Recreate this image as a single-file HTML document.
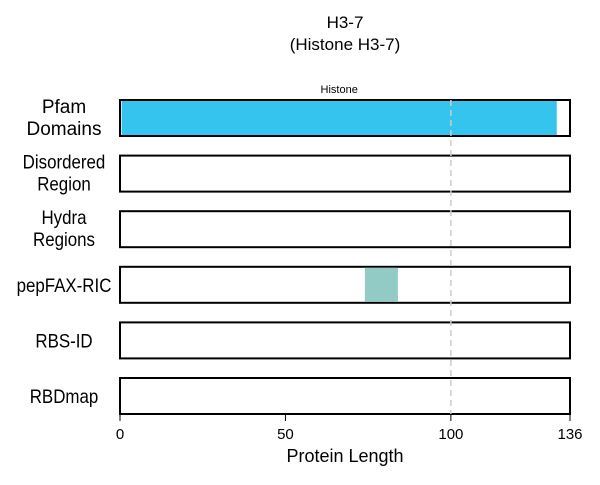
<!DOCTYPE html>
<html><head><meta charset="utf-8"><style>
body{margin:0;background:#fff;}
svg text{font-family:"Liberation Sans",sans-serif;}
</style></head><body>
<svg id="chart" width="600" height="480" xmlns="http://www.w3.org/2000/svg">
<text x="345" y="28" font-size="17" text-anchor="middle">H3-7</text>
<text x="345" y="50" font-size="17" text-anchor="middle">(Histone H3-7)</text>
<g id="rows"></g>
<g id="axis"></g>
<text x="345" y="462" font-size="18" text-anchor="middle">Protein Length</text>
</svg>
<script>
const tracks=["Pfam Domains","Disordered Region","Hydra Regions","pepFAX-RIC","RBS-ID","RBDmap"];
const featTrack=[0,3];
const featStart=[0.5,74];
const featEnd=[132,84];
const featLabel=["Histone",""];
const featColor=["#35c4ee","#92cbc5"];
const ticks=[0,50,100,136];
const maxLen=136;
const dashAt=100;
const ns="http://www.w3.org/2000/svg";
const x0=120,x1=570;
const xs=v=>x0+(v/maxLen)*(x1-x0);
const rowY=i=>100+i*55.6, rowH=36;
function mk(t,a,p){const e=document.createElementNS(ns,t);for(const k in a)e.setAttribute(k,a[k]);p.appendChild(e);return e;}
const rows=document.getElementById('rows');
tracks.forEach((name,i)=>{
  const y=rowY(i);
  const r=mk('rect',{x:x0,y:y,width:x1-x0,height:rowH,fill:'#fff',stroke:'#000','stroke-width':2},rows);
  
  
  const parts=name==="Pfam Domains"?["Pfam","Domains"]:name.includes(" ")?name.split(" "):[name];
  const fs=19;
  const attrs={x:64,'text-anchor':'middle','font-size':fs};
  if(i>0)attrs.transform='translate(64,0) scale(0.89,1) translate(-64,0)';
  const t=mk('text',attrs,rows);
  
  
  parts.forEach((p,j)=>{const ts=mk('tspan',{x:64,y:parts.length===1?y+rowH/2+7:y+13+j*22},t);ts.textContent=p;});
});
featTrack.forEach((tr,i)=>{
  const y=rowY(tr);
  const b=mk('rect',{x:xs(featStart[i]),y:y+1,width:xs(featEnd[i])-xs(featStart[i]),height:rowH-2,fill:featColor[i]},rows);
  
  
  if(featLabel[i]){const t=mk('text',{x:(xs(featStart[i])+xs(featEnd[i]))/2,y:y-7,'font-size':11,'text-anchor':'middle'},rows);t.textContent=featLabel[i];
  
  }
});
const dl=mk('line',{x1:xs(dashAt),x2:xs(dashAt),y1:rowY(0),y2:rowY(5)+rowH,stroke:'#ccc','stroke-width':1.5,'stroke-dasharray':'6,4'},rows);


const ax=document.getElementById('axis');
ticks.forEach(v=>{
  const l=mk('line',{x1:xs(v),x2:xs(v),y1:415,y2:421,stroke:'#000','stroke-width':1},ax);
  
  
  const t=mk('text',{x:xs(v),y:439,'font-size':15,'text-anchor':'middle'},ax);t.textContent=v;
  
  
});
</script>
</body></html>
